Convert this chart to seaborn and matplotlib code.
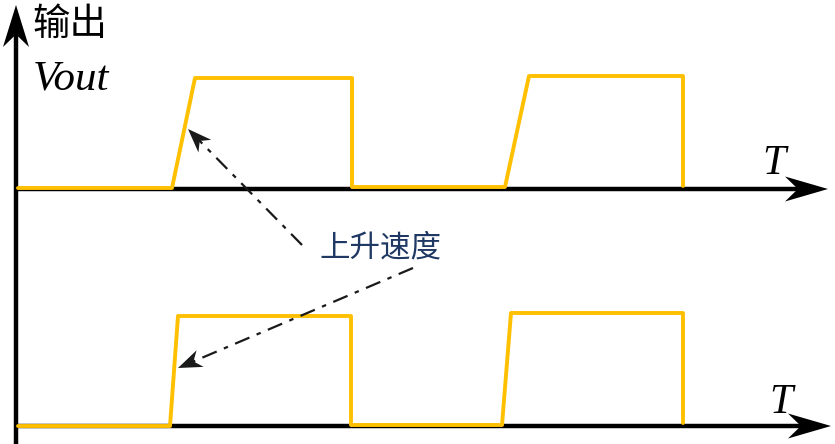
import numpy as np
import pandas as pd
import matplotlib
matplotlib.use("Agg")
import matplotlib.pyplot as plt
import seaborn as sns

# 波形数据（横坐标 = 时间，纵坐标 = 输出电平，单位与画布像素一致）
upper_t = [18, 172, 195, 352, 352, 505, 529, 683, 683]
upper_v = [188, 188, 78, 78, 187, 187, 76, 76, 186]
lower_t = [18, 170, 178, 351, 351, 502, 511, 683, 683]
lower_v = [426, 426, 316, 316, 425, 425, 313, 313, 423]

# 坐标轴位置
y_axis_x = 16
upper_base = 189
lower_base = 426

# 注释：上升速度
label_text = "上升速度"
label_pos = (380, 248)
arrow_starts = [(302, 245), (413, 268)]
arrow_tips = [(188, 129), (178, 368)]

sns.set_theme(style="white")
plt.rcParams['font.family'] = ['Noto Sans CJK SC', 'DejaVu Sans']

fig = plt.figure(figsize=(8.35, 4.44), dpi=100)
ax = fig.add_axes([0, 0, 1, 1])


def stealth(ax, tip, tail, length, width, color):
    """画一个尾部内凹的箭头"""
    tip = np.array(tip, float)
    d = tip - np.array(tail, float)
    d /= np.hypot(*d)
    n = np.array([-d[1], d[0]])
    base = tip - d * length
    notch = tip - d * length * 0.7
    pts = np.array([tip, base + n * width, notch, base - n * width])
    ax.fill(pts[:, 0], pts[:, 1], color=color, lw=0, zorder=5)


# 坐标轴
axis_kw = dict(color='black', lw=3.2, solid_capstyle='butt', zorder=3)
ax.plot([y_axis_x, y_axis_x], [444, 30], **axis_kw)
stealth(ax, (y_axis_x, 5), (y_axis_x, 444), 42, 13, 'black')
ax.plot([y_axis_x, 800], [upper_base, upper_base], **axis_kw)
stealth(ax, (828, upper_base), (0, upper_base), 43, 12.5, 'black')
ax.plot([y_axis_x, 802], [lower_base, lower_base], **axis_kw)
stealth(ax, (831, lower_base), (0, lower_base), 43, 12.5, 'black')

# 波形
wave = pd.concat([
    pd.DataFrame({'t': upper_t, 'v': upper_v, 'sig': 'upper'}),
    pd.DataFrame({'t': lower_t, 'v': lower_v, 'sig': 'lower'}),
])
for name, grp in wave.groupby('sig'):
    sns.lineplot(data=grp, x='t', y='v', sort=False, estimator=None,
                 color='#FFC000', lw=2.8, ax=ax, zorder=4)
ax.set_xlim(0, 835)
ax.set_ylim(444, 0)
ax.axis('off')

# 点划线箭头
for (sx, sy), (tx, ty) in zip(arrow_starts, arrow_tips):
    d = np.array([tx - sx, ty - sy], float)
    d /= np.hypot(*d)
    ex, ey = tx - d[0] * 14, ty - d[1] * 14
    ax.plot([sx, ex], [sy, ey], color='#1a1a1a', lw=1.6,
            dashes=(7, 3.5, 2, 3.5), zorder=5)
    stealth(ax, (tx, ty), (sx, sy), 24, 9, '#1a1a1a')

# 文字
ax.text(label_pos[0], label_pos[1], label_text, color='#1F3864',
        fontsize=22, style='italic', ha='center', va='center')
ax.text(32, 24, "输出", color='black', fontsize=27, style='italic',
        ha='left', va='center')
ax.text(33, 79, "Vout", color='black', fontsize=31, style='italic',
        family='Liberation Serif', ha='left', va='center')
ax.text(774, 164, "T", color='black', fontsize=30, style='italic',
        family='Liberation Serif', ha='center', va='center')
ax.text(781, 403, "T", color='black', fontsize=30, style='italic',
        family='Liberation Serif', ha='center', va='center')

fig.savefig('out.png', dpi=100)
